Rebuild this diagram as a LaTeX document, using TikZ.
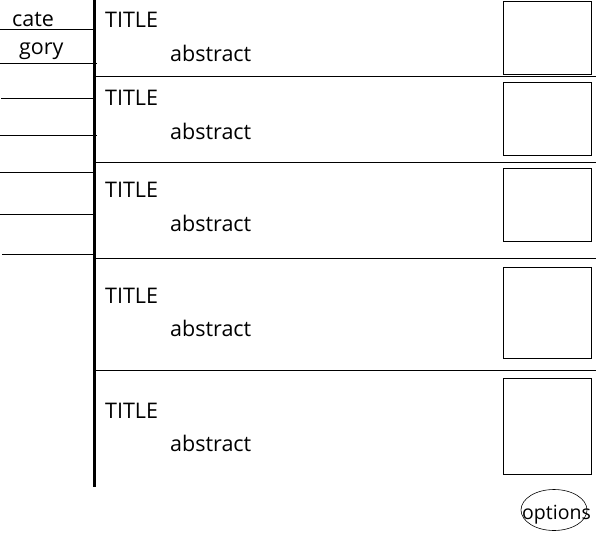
\documentclass[tikz,border=0pt]{standalone}
\usepackage{fontspec}
\setmainfont{Open Sans}
\usetikzlibrary{shapes.geometric}
\begin{document}
\begin{tikzpicture}[x=1pt,y=-1pt,
  rule/.style={line width=1pt},
  txt/.style={font=\fontsize{21.5}{24}\selectfont, inner sep=0pt, anchor=base west},
  thumb/.style={draw, line width=1pt, inner sep=0pt, anchor=north west},
  opt/.style={draw, ellipse, line width=0.6pt, inner sep=0pt, minimum width=66pt, minimum height=41pt}]
\useasboundingbox (0,0) rectangle (596,537);
% main vertical rule
\draw[line width=3pt] (94,0) -- (94,487);
% category column
\node[txt] (cate) at (12,26.5) {cate};
\node[txt] (gory) at (19,54.5) {gory};
\draw[rule] (0,30) -- (93,30);
\draw[rule] (0,64) -- (97,64);
\draw[rule] (1,99) -- (93,99);
\draw[rule] (0,136) -- (97,136);
\draw[rule] (0,173) -- (93,173);
\draw[rule] (0,215) -- (93,215);
\draw[rule] (2,254) -- (93,254);
% section dividers
\foreach \y in {77,163,258,370} \draw[rule] (95,\y) -- (596,\y);
% entries
\node[txt] (t1) at (105,28) {TITLE};
\node[txt] (a1) at (170,61.5) {abstract};
\node[thumb, minimum width=88pt, minimum height=73pt] (b1) at (503,1) {};
\node[txt] (t2) at (105,106) {TITLE};
\node[txt] (a2) at (170,139.5) {abstract};
\node[thumb, minimum width=88pt, minimum height=73pt] (b2) at (503,82) {};
\node[txt] (t3) at (105,198) {TITLE};
\node[txt] (a3) at (170,231.5) {abstract};
\node[thumb, minimum width=88pt, minimum height=73pt] (b3) at (503,168) {};
\node[txt] (t4) at (105,303) {TITLE};
\node[txt] (a4) at (170,336.5) {abstract};
\node[thumb, minimum width=88pt, minimum height=91pt] (b4) at (503,267) {};
\node[txt] (t5) at (105,418) {TITLE};
\node[txt] (a5) at (170,451.5) {abstract};
\node[thumb, minimum width=88pt, minimum height=96pt] (b5) at (503,378) {};
% options
\node[opt] (optshape) at (554,510) {};
\node[txt, font=\fontsize{19.5}{22}\selectfont] (options) at (522,519) {options};
\end{tikzpicture}
\end{document}
